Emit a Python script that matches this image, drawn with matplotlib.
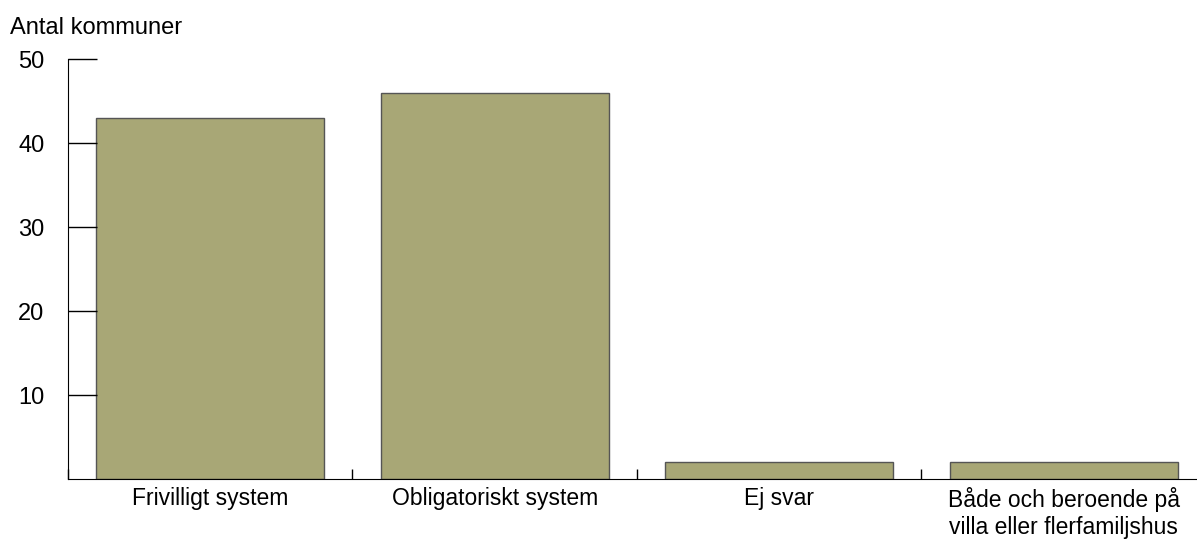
import matplotlib.pyplot as plt
import numpy as np

categories = ["Frivilligt system", "Obligatoriskt system", "Ej svar",
              "Både och beroende på\nvilla eller flerfamiljshus"]
values = [43, 46, 2, 2]
y_ticks = [10, 20, 30, 40, 50]

plt.rcParams['font.family'] = ['Liberation Sans', 'DejaVu Sans']

fig = plt.figure(figsize=(11.97, 5.41), dpi=100)
ax = fig.add_axes([68 / 1197, 62 / 541, 1138 / 1197, 420 / 541])

x = np.arange(len(categories))
ax.bar(x, values, width=0.8, color="#A8A776", edgecolor="#555555", linewidth=1)

ax.set_xlim(-0.5, len(categories) - 0.5)
ax.set_ylim(0, 50)

for s in ["top", "right"]:
    ax.spines[s].set_visible(False)
ax.spines["left"].set_color("black")
ax.spines["bottom"].set_color("black")

ax.set_yticks(y_ticks)
ax.tick_params(axis="y", direction="in", length=21, width=1, pad=17, labelsize=17)

ax.set_xticks(x)
ax.set_xticklabels(categories, fontsize=16.5)
ax.set_xticks(np.arange(len(categories)) - 0.5, minor=True)
ax.tick_params(axis="x", which="major", length=0, pad=6)
ax.tick_params(axis="x", which="minor", direction="in", length=7, width=1)

fig.text(10 / 1197, 1 - 28 / 541, "Antal kommuner", fontsize=17, va="center", ha="left")

fig.savefig("out.png", dpi=100)
